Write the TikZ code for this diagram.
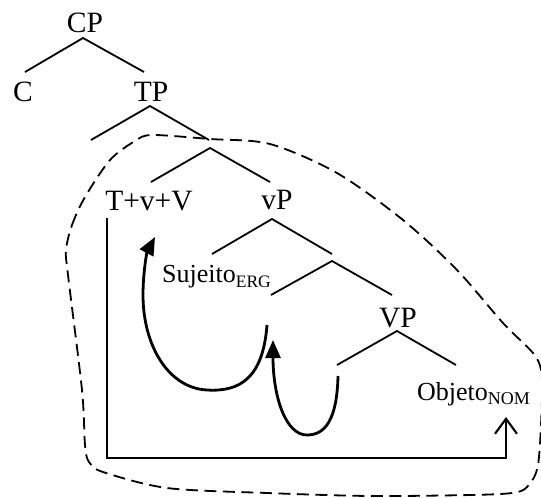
\documentclass[tikz,border=0pt]{standalone}
\usepackage{fontspec}
\setmainfont{Liberation Serif}
\usetikzlibrary{arrows.meta}
\begin{document}
\begin{tikzpicture}[x=1pt,y=-1pt,
  big/.style={font=\fontsize{29.5}{32}\selectfont, inner sep=0pt, anchor=base},
  small/.style={font=\fontsize{26}{28}\selectfont, inner sep=0pt, anchor=base west},
  branch/.style={line width=1.8pt},
  move/.style={line width=2.8pt, -{Triangle[length=18pt,width=15pt]}},
  agree/.style={line width=2.1pt, -{Straight Barb[length=15pt,width=22pt,line width=2.1pt]}},
  phaseline/.style={line width=1.8pt, dash pattern=on 12pt off 6.5pt}]
\useasboundingbox (0,0) rectangle (541,498);
% labels
\node[big] (CP) at (85,32) {CP};
\node[big] (C) at (23,101) {C};
\node[big] (TP) at (151,101) {TP};
\node[big] (TvV) at (149,210) {T+v+V};
\node[big] (vP) at (277,209) {vP};
\node[small] (Suj) at (162,282) {Sujeito\raisebox{-5pt}{\fontsize{17.5}{18}\selectfont ERG}};
\node[big] (VP) at (398,327) {VP};
\node[small] (Obj) at (417,400) {Objeto\raisebox{-4pt}{\fontsize{18}{18}\selectfont NOM}};
% tree coordinates
\coordinate (cpA) at (83,38);  \coordinate (cpL) at (25,72);  \coordinate (cpR) at (144,72);
\coordinate (tpA) at (150,106); \coordinate (tpL) at (91,140); \coordinate (tpR) at (209,140);
\coordinate (tbA) at (210,148); \coordinate (tbL) at (151,182); \coordinate (tbR) at (270,182);
\coordinate (vpA) at (272,219); \coordinate (vpL) at (212,254); \coordinate (vpR) at (332,254);
\coordinate (vbA) at (332,261); \coordinate (vbL) at (271,295); \coordinate (vbR) at (392,295);
\coordinate (VPA) at (397,331); \coordinate (VPL) at (337,365); \coordinate (VPR) at (456,365);
\draw[branch] (cpL) -- (cpA) -- (cpR);
\draw[branch] (tpL) -- (tpA) -- (tpR);
\draw[branch] (tbL) -- (tbA) -- (tbR);
\draw[branch] (vpL) -- (vpA) -- (vpR);
\draw[branch] (vbL) -- (vbA) -- (vbR);
\draw[branch] (VPL) -- (VPA) -- (VPR);
% movement arrows
\coordinate (m1s) at (267,325); \coordinate (m1t) at (155,237);
\draw[move] (m1s) .. controls (263,378) and (240,392) .. (207,390)
  .. controls (168,388) and (143,345) .. (143,295)
  .. controls (143,272) and (147,252) .. (m1t);
\coordinate (m2s) at (338,376); \coordinate (m2t) at (273,340);
\draw[move] (m2s) .. controls (337,420) and (325,435) .. (307,435)
  .. controls (285,435) and (273,395) .. (m2t);
% agree path
\coordinate (aS) at (107,218); \coordinate (aB1) at (107,458);
\coordinate (aB2) at (506,458); \coordinate (aT) at (506,417);
\draw[agree] (aS) -- (aB1) -- (aB2) -- (aT);
% phase boundary
\draw[phaseline] plot[smooth cycle, tension=0.5] coordinates {
 (66,250) (72,225) (85,197) (110,160) (135,141) (152,135) (210,139) (270,144)
 (337,173) (403,220) (457,270) (503,323) (533,353) (541,370) (542,400)
 (538,465) (527,487) (512,493) (470,495) (370,496) (267,493) (167,488)
 (103,472) (89,462) (85,445) (82,390) (68,275)};
\end{tikzpicture}
\end{document}
